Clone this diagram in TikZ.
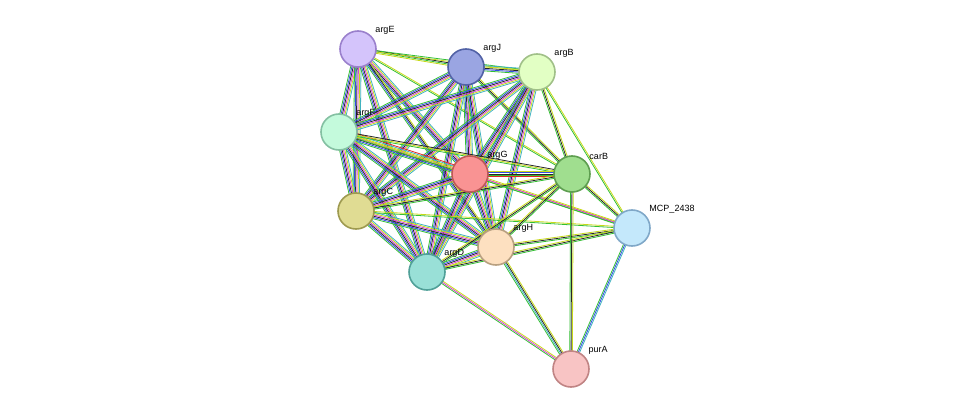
\documentclass[tikz,border=0pt]{standalone}
\usepackage{fontspec}
\setmainfont{Liberation Sans}
\usetikzlibrary{calc,backgrounds}
\definecolor{cG}{rgb}{0.2,0.75,0.2}
\definecolor{cK}{rgb}{0.15,0.15,0.15}
\definecolor{cB}{rgb}{0.2,0.3,0.9}
\definecolor{cM}{rgb}{0.85,0.25,0.85}
\definecolor{cY}{rgb}{0.78,0.85,0.1}
\definecolor{cC}{rgb}{0.25,0.7,0.75}
\definecolor{cR}{rgb}{0.9,0.15,0.15}
\definecolor{fE}{HTML}{D4C4FB}\definecolor{dE}{HTML}{9A80CC}
\definecolor{fJ}{HTML}{9AA5E2}\definecolor{dJ}{HTML}{5262A6}
\definecolor{fB}{HTML}{E2FFC4}\definecolor{dB}{HTML}{A0C088}
\definecolor{fF}{HTML}{C4FADC}\definecolor{dF}{HTML}{84C0A2}
\definecolor{fG}{HTML}{F99393}\definecolor{dG}{HTML}{C05858}
\definecolor{fCB}{HTML}{A0DE8F}\definecolor{dCB}{HTML}{5E9E50}
\definecolor{fC}{HTML}{E0DC93}\definecolor{dC}{HTML}{9E9A50}
\definecolor{fM}{HTML}{C4E8FB}\definecolor{dM}{HTML}{80A8C8}
\definecolor{fH}{HTML}{FDE0C0}\definecolor{dH}{HTML}{B8A080}
\definecolor{fD}{HTML}{99E0D7}\definecolor{dD}{HTML}{50A098}
\definecolor{fP}{HTML}{F8C4C4}\definecolor{dP}{HTML}{C08484}
\tikzset{
  prot/.style 2 args={circle, minimum size=36pt, inner sep=0pt, line width=1.6pt,
    fill=#1, draw=#2, label={[font=\fontsize{9}{10}\selectfont, inner sep=1pt, xshift=3pt]45:\tikzlabel}},
  bundle/.style={line width=0.8pt}
}
\newcommand\tikzlabel{}
\newcommand\protnode[6]{\renewcommand\tikzlabel{#2}\node[prot={#5}{#6}] (#1) at (#3,#4) {};}
\newcommand\edge[3]{%
  \edef\edgelist{#3}%
  \foreach \c [count=\n] in \edgelist {\xdef\nedge{\n}}%
  \foreach \c [count=\i] in \edgelist {%
    \pgfmathsetmacro\o{(\i-(\nedge+1)/2)*1.3}%
    \draw[bundle, \c] ($(#1.center)!\o pt!90:(#2.center)$) -- ($(#2.center)!\o pt!-90:(#1.center)$);
  }}
\def\full{cG,cB,cK,cM,cY,cC}
\begin{document}
\begin{tikzpicture}[x=1pt,y=-1pt]
\useasboundingbox (0,0) rectangle (975,415);
\protnode{argE}{argE}{358}{49}{fE}{dE}
\protnode{argJ}{argJ}{466}{67}{fJ}{dJ}
\protnode{argB}{argB}{537}{72}{fB}{dB}
\protnode{argF}{argF}{339}{132}{fF}{dF}
\protnode{argG}{argG}{470}{174}{fG}{dG}
\protnode{carB}{carB}{572}{174}{fCB}{dCB}
\protnode{argC}{argC}{356}{211}{fC}{dC}
\protnode{mcp}{MCP\_2438}{632}{228}{fM}{dM}
\protnode{argH}{argH}{496}{247}{fH}{dH}
\protnode{argD}{argD}{427}{272}{fD}{dD}
\protnode{purA}{purA}{571}{369}{fP}{dP}
\begin{pgfonlayer}{background}
% arg cluster
\edge{argE}{argJ}{cY,cG,cK}
\edge{argE}{argB}{cY,cG}
\edge{argE}{argF}{\full}
\edge{argE}{argG}{\full}
\edge{argE}{argC}{\full}
\edge{argE}{argH}{cG,cB,cK,cY}
\edge{argE}{argD}{\full}
\edge{argE}{carB}{cG,cY}
\edge{argJ}{argB}{cG,cB,cK,cY,cC}
\edge{argJ}{argF}{\full}
\edge{argJ}{argG}{\full}
\edge{argJ}{argC}{\full}
\edge{argJ}{argH}{\full}
\edge{argJ}{argD}{\full}
\edge{argJ}{carB}{cG,cK,cY}
\edge{argB}{argF}{\full}
\edge{argB}{argG}{\full}
\edge{argB}{argC}{\full}
\edge{argB}{argH}{\full}
\edge{argB}{argD}{\full}
\edge{argB}{carB}{cG,cK,cY}
\edge{argB}{mcp}{cG,cY}
\edge{argF}{argG}{cG,cB,cK,cM,cY,cC,cR}
\edge{argF}{argC}{\full}
\edge{argF}{argH}{\full}
\edge{argF}{argD}{\full}
\edge{argF}{carB}{cG,cY,cK}
\edge{argF}{mcp}{cG,cY}
\edge{argG}{carB}{cR,cG,cK,cB,cY}
\edge{argG}{argC}{\full}
\edge{argG}{argH}{\full}
\edge{argG}{argD}{\full}
\edge{argG}{mcp}{cG,cM,cY}
\edge{argC}{argH}{\full}
\edge{argC}{argD}{\full}
\edge{argC}{carB}{cG,cK,cY}
\edge{argC}{mcp}{cG,cY}
\edge{argH}{argD}{\full}
\edge{argH}{carB}{cG,cK,cY}
\edge{argH}{mcp}{cG,cK,cY}
\edge{argH}{purA}{cG,cC,cK,cY}
\edge{argD}{carB}{cG,cK,cY}
\edge{argD}{mcp}{cG,cK,cY}
\edge{argD}{purA}{cG,cM,cY}
% carB, MCP_2438, purA
\edge{carB}{mcp}{cG,cK,cY}
\edge{carB}{purA}{cG,cK,cY}
\edge{mcp}{purA}{cG,cB,cC}
\end{pgfonlayer}
\end{tikzpicture}
\end{document}
